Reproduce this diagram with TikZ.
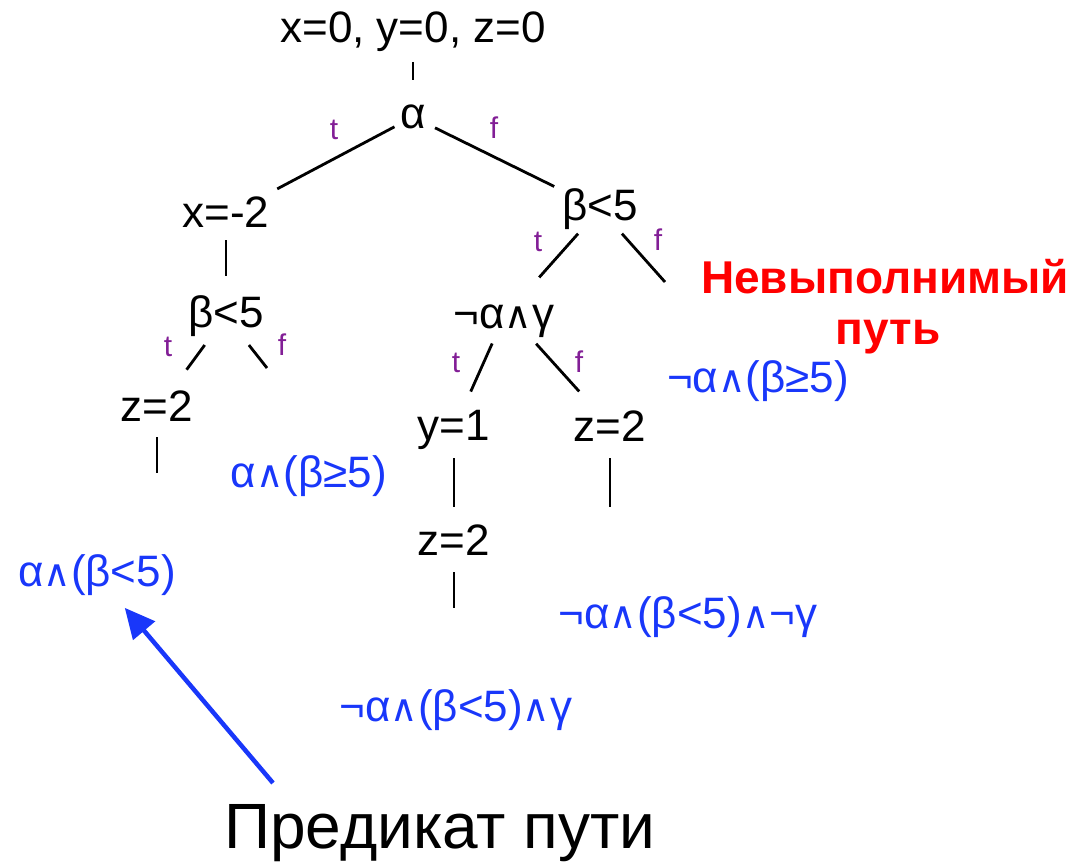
\documentclass[tikz,border=0pt]{standalone}
\usepackage{fontspec}
\usepackage{graphicx}
\setmainfont{Liberation Sans}
\newfontfamily\djv{DejaVu Sans}
\usetikzlibrary{arrows.meta}
\definecolor{tfpurple}{RGB}{130,30,150}
\definecolor{predblue}{RGB}{25,55,250}
\definecolor{badred}{RGB}{255,0,0}
\newcommand{\wdg}{{\djv\scalebox{0.85}{∧}}}
\begin{document}
\begin{tikzpicture}[x=1pt,y=-1pt,
  cond/.style={inner sep=0pt, font=\fontsize{44}{50}\selectfont, text height=33pt, text depth=9.5pt},
  tf/.style={inner sep=0pt, text=tfpurple, font=\fontsize{30}{34}\selectfont},
  pred/.style={inner sep=0pt, text=predblue, font=\fontsize{44}{50}\selectfont},
  redlbl/.style={anchor=base, inner sep=0pt, text=badred, font=\fontsize{46}{50}\selectfont\bfseries},
  edge/.style={line width=2.8pt},
  predarrow/.style={line width=4.5pt, predblue, -{Triangle[length=30pt,width=28pt]}}]
\useasboundingbox (0,0) rectangle (1075,864);
% tree nodes
\node[cond] (top) at (413,31) {x=0, y=0, z=0};
\node[cond] (alpha) at (413,117) {α};
\node[cond] (xm2) at (226,216) {x=-2};
\node[cond] (bL) at (226,316) {β<5};
\node[cond] (zL) at (157,410) {z=2};
\node[cond] (bR) at (600,209) {β<5};
\node[cond] (nag) at (504,317) {¬α\wdg γ};
\node[cond] (y1) at (454,429) {y=1};
\node[cond] (zR) at (610,430) {z=2};
\node[cond] (zM) at (454,544) {z=2};
% free ends
\coordinate (fLend) at (267,368);
\coordinate (fRend) at (665,282);
\coordinate (zLend) at (157,473);
\coordinate (zRend) at (610,507);
\coordinate (zMend) at (454,608);
\coordinate (arrtail) at (273,783);
% edges
\draw[edge, shorten <=31pt, shorten >=37pt] (top.center) -- (alpha.center);
\draw[edge, shorten <=21pt, shorten >=58pt] (alpha.center) -- (xm2.center);
\draw[edge, shorten <=24.5pt, shorten >=51pt] (alpha.center) -- (bR.center);
\draw[edge, shorten <=24pt, shorten >=40pt] (xm2.center) -- (bL.center);
\draw[edge, shorten <=36pt, shorten >=50pt] (bL.center) -- (zL.center);
\draw[edge, shorten <=37pt] (bL.center) -- (fLend);
\draw[edge, shorten <=27pt] (zL.center) -- (zLend);
\draw[edge, shorten <=33pt, shorten >=53pt] (bR.center) -- (nag.center);
\draw[edge, shorten <=33pt] (bR.center) -- (fRend);
\draw[edge, shorten <=29pt, shorten >=41pt] (nag.center) -- (y1.center);
\draw[edge, shorten <=36pt, shorten >=52pt] ([xshift=8pt]nag.center) -- ([xshift=4pt]zR.center);
\draw[edge, shorten <=29pt, shorten >=37pt] (y1.center) -- (zM.center);
\draw[edge, shorten <=28pt] (zR.center) -- (zRend);
\draw[edge, shorten <=28pt] (zM.center) -- (zMend);
% branch labels
\node[tf] (t1) at (334,130) {t};
\node[tf] (f1) at (494,128) {f};
\node[tf] (t2) at (538,242) {t};
\node[tf] (f2) at (658,240) {f};
\node[tf] (t3) at (168,347) {t};
\node[tf] (f3) at (282,345) {f};
\node[tf] (t4) at (456,363) {t};
\node[tf] (f4) at (579,362) {f};
% path predicates
\node[pred] (aGe) at (309,476) {α\wdg(β≥5)};
\node[pred] (aLt) at (97,575) {α\wdg(β<5)};
\node[pred] (naGe) at (758,381) {¬α\wdg(β≥5)};
\node[pred] (naLtNg) at (688,617) {¬α\wdg(β<5)\wdg¬γ};
\node[pred] (naLtG) at (456,710) {¬α\wdg(β<5)\wdg γ};
% infeasible path
\node[redlbl] (nev1) at (885,293) {Невыполнимый};
\node[redlbl] (nev2) at (888,344) {путь};
% caption
\node[anchor=base, inner sep=0pt, font=\fontsize{64}{72}\selectfont] (cap) at (440,848) {Предикат пути};
\draw[predarrow, shorten >=43pt] (arrtail) -- (aLt.center);
\end{tikzpicture}
\end{document}
